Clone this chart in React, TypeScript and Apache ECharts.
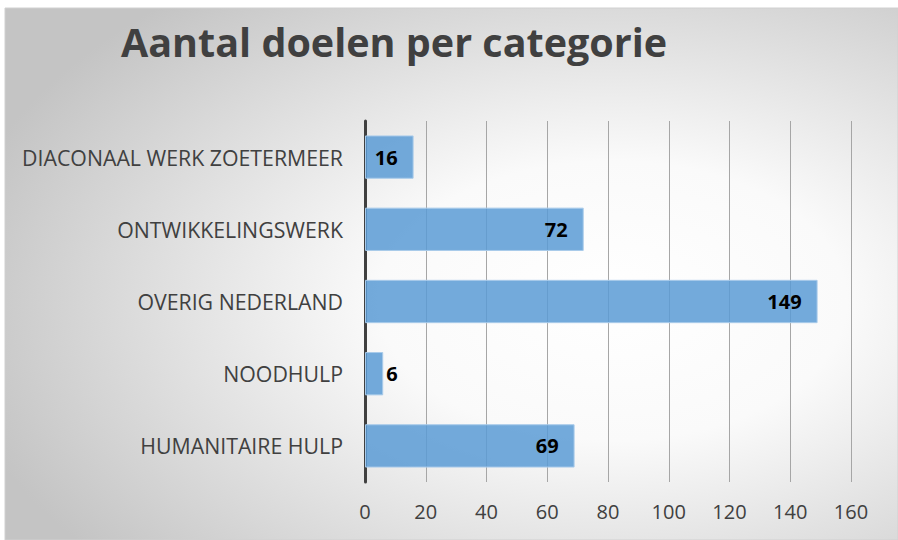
import React, { useEffect, useRef } from "react";
import * as echarts from "echarts";

const categories = [
  "HUMANITAIRE HULP",
  "NOODHULP",
  "OVERIG NEDERLAND",
  "ONTWIKKELINGSWERK",
  "DIACONAAL WERK ZOETERMEER",
];
const values = [69, 6, 149, 72, 16];
const titleText = "Aantal doelen per categorie";

export default function App() {
  const ref = useRef<HTMLDivElement>(null);
  useEffect(() => {
    document.body.style.margin = "0";
    const chart = echarts.init(ref.current!, undefined, { renderer: "svg" });
    chart.setOption({
      animation: false,
      backgroundColor: "#ffffff",
      graphic: [
        {
          type: "rect",
          z: -10,
          silent: true,
          shape: { x: 5, y: 8, width: 893, height: 532 },
          style: {
            fill: {
              type: "radial",
              x: 0.68,
              y: 0.55,
              r: 0.75,
              colorStops: [
                { offset: 0, color: "#ffffff" },
                { offset: 0.35, color: "#fafafa" },
                { offset: 1, color: "#c4c4c4" },
              ],
            },
            stroke: "#d0d0d0",
            lineWidth: 1,
          },
        },
      ],
      title: {
        text: titleText,
        left: 116,
        top: 17,
        textStyle: {
          fontFamily: "Open Sans",
          fontWeight: "bold",
          fontSize: 39.5,
          color: "#404040",
        },
      },
      grid: { left: 365, right: 47, top: 121, bottom: 58, containLabel: false },
      xAxis: {
        type: "value",
        min: 0,
        max: 160,
        interval: 20,
        axisLine: { show: false },
        axisTick: { show: false },
        splitLine: { show: true, lineStyle: { color: "#a6a6a6", width: 1 } },
        axisLabel: {
          fontFamily: "Open Sans",
          fontSize: 20,
          color: "#404040",
          margin: 19,
        },
      },
      yAxis: {
        type: "category",
        data: categories,
        axisLine: { show: true, lineStyle: { color: "#404040", width: 3 } },
        axisTick: { show: false },
        axisLabel: {
          fontFamily: "Open Sans",
          fontSize: 21.3,
          color: "#404040",
          margin: 22,
        },
      },
      series: [
        {
          type: "bar",
          data: values.map((v) =>
            v < 10 ? { value: v, label: { position: "right", distance: 3 } } : v
          ),
          barCategoryGap: "40%",
          itemStyle: {
            color: "rgba(91,155,213,0.85)",
            borderColor: "#a9cbea",
            borderWidth: 1,
          },
          label: {
            show: true,
            position: "insideRight",
            distance: 16,
            fontFamily: "Open Sans",
            fontWeight: "bold",
            fontSize: 20,
            color: "#000000",
          },
        },
      ],
    });
    return () => chart.dispose();
  }, []);
  return <div ref={ref} style={{ width: 898, height: 540 }} />;
}
